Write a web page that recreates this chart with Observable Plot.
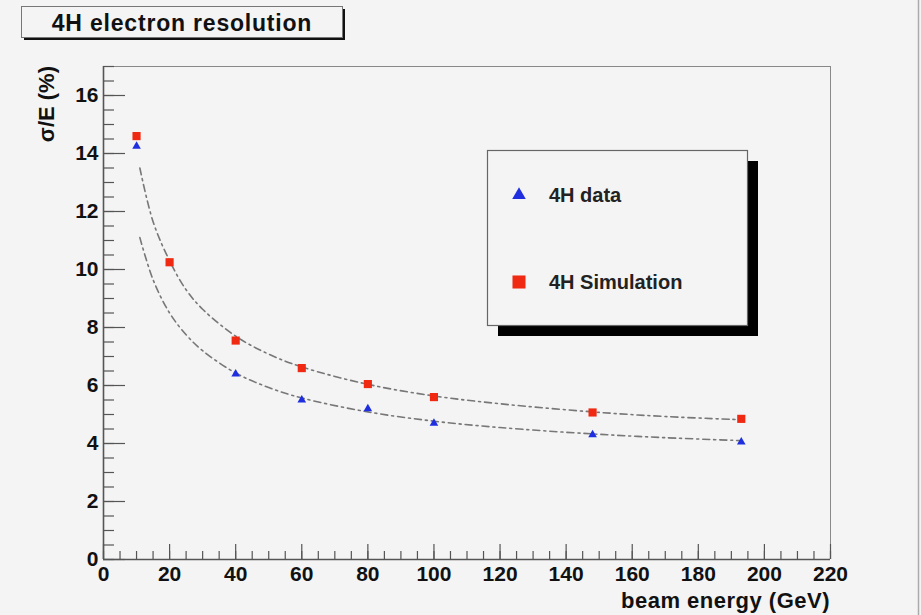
<!DOCTYPE html>
<html><head><meta charset="utf-8">
<script src="https://cdn.jsdelivr.net/npm/d3@7"></script>
<script src="https://cdn.jsdelivr.net/npm/@observablehq/plot@0.6"></script>
<style>
html,body{margin:0;padding:0;background:#f4f4f4;}
#chart{position:relative;width:921px;height:615px;}
svg{display:block;}
</style></head><body><div id="chart"></div>
<script>
// ---- data ----
const dataEnergy = [10, 40, 60, 80, 100, 148, 193];
const dataRes    = [14.25, 6.4, 5.5, 5.2, 4.7, 4.3, 4.05];
const simEnergy  = [10, 20, 40, 60, 80, 100, 148, 193];
const simRes     = [14.6, 10.25, 7.55, 6.6, 6.05, 5.6, 5.07, 4.85];
// dash-dot fit curves
const fitEnergy  = [11, 15, 20, 25, 30, 40, 50, 60, 80, 100, 120, 148, 170, 193];
const fitDataRes = [11.1, 9.65, 8.5, 7.75, 7.2, 6.43, 5.93, 5.57, 5.09, 4.77, 4.55, 4.33, 4.2, 4.1];
const fitSimRes  = [13.5, 11.65, 10.3, 9.3, 8.63, 7.7, 7.08, 6.64, 6.04, 5.64, 5.37, 5.09, 4.93, 4.82];
const xTicks = [0, 20, 40, 60, 80, 100, 120, 140, 160, 180, 200, 220];
const yTicks = [0, 2, 4, 6, 8, 10, 12, 14, 16];
const xMinor = d3.range(0, 221, 5);
const yMinor = d3.range(0, 17.01, 0.5);
const titleText = "4H electron resolution";
const xLabel = "beam energy (GeV)";
const yLabel = "σ/E (%)";
const legendItems = [
  {label: "4H data", symbol: "triangle", color: "#1f2fe0"},
  {label: "4H Simulation", symbol: "square", color: "#f02a12"}
];

const dataPts = dataEnergy.map((e, i) => ({e, r: dataRes[i]}));
const simPts = simEnergy.map((e, i) => ({e, r: simRes[i]}));
const fitD = fitEnergy.map((e, i) => ({e, r: fitDataRes[i]}));
const fitS = fitEnergy.map((e, i) => ({e, r: fitSimRes[i]}));

const W = 921, H = 615, mL = 103, mR = 91, mT = 66, mB = 56;
const innerW = W - mL - mR, innerH = H - mT - mB;
const FONT = "'Liberation Sans', Arial, Helvetica, sans-serif";
const axisCol = "#555";

const plot = Plot.plot({
  width: W, height: H,
  marginLeft: mL, marginRight: mR, marginTop: mT, marginBottom: mB,
  style: {background: "#f4f4f4", fontFamily: FONT, fontSize: "21px", fontWeight: "bold", color: "#111", overflow: "visible"},
  x: {domain: [0, 220]},
  y: {domain: [0, 17]},
  marks: [
    // frame top & right
    Plot.ruleY([17], {stroke: "#888", strokeWidth: 1}),
    Plot.ruleX([220], {stroke: "#888", strokeWidth: 1}),
    // inward ticks
    Plot.ruleX(xMinor, {x: d => d, insetTop: innerH - 8, stroke: axisCol, strokeWidth: 1.2}),
    Plot.ruleX(xTicks, {x: d => d, insetTop: innerH - 15, stroke: axisCol, strokeWidth: 1.2}),
    Plot.ruleY(yMinor, {y: d => d, insetRight: innerW - 11, stroke: axisCol, strokeWidth: 1.2}),
    Plot.ruleY(yTicks, {y: d => d, insetRight: innerW - 22, stroke: axisCol, strokeWidth: 1.2}),
    // axis lines
    Plot.ruleX([0], {stroke: axisCol, strokeWidth: 1.6}),
    Plot.ruleY([0], {stroke: axisCol, strokeWidth: 1.6}),
    Plot.axisX({ticks: xTicks, tickSize: 0, tickPadding: 7, label: null, tickFormat: d => String(d), fontSize: 21, fontWeight: "bold", fill: "#111"}),
    Plot.axisY({ticks: yTicks, tickSize: 0, tickPadding: 5, label: null, tickFormat: d => String(d), fontSize: 21, fontWeight: "bold", fill: "#111"}),
    // fit curves
    Plot.line(fitD, {x: "e", y: "r", curve: "catmull-rom", stroke: "#777", strokeWidth: 1.6, strokeDasharray: "7,4,2,4"}),
    Plot.line(fitS, {x: "e", y: "r", curve: "catmull-rom", stroke: "#777", strokeWidth: 1.6, strokeDasharray: "7,4,2,4"}),
    // points
    Plot.dot(simPts, {x: "e", y: "r", symbol: "square", r: 4.6, fill: legendItems[1].color, stroke: null}),
    Plot.dot(dataPts, {x: "e", y: "r", symbol: "triangle", r: 3.2, fill: legendItems[0].color, stroke: null})
  ]
});
document.getElementById("chart").appendChild(plot);

// ---- decorations: title box, legend, axis titles ----
const svg = d3.select(plot);
const g = svg.append("g").style("font-family", FONT).style("font-weight", "bold");

// title box
g.append("rect").attr("x", 24).attr("y", 9).attr("width", 321).attr("height", 31).attr("fill", "#111");
g.append("rect").attr("x", 21.5).attr("y", 6.5).attr("width", 321).attr("height", 31).attr("fill", "#f4f4f4").attr("stroke", "#777").attr("stroke-width", 1);
g.append("text").attr("x", 182).attr("y", 31).attr("text-anchor", "middle")
  .attr("font-size", 23).attr("letter-spacing", 0.8).attr("fill", "#111").text(titleText);

// legend box
g.append("rect").attr("x", 498).attr("y", 161).attr("width", 260).attr("height", 175).attr("fill", "#000");
g.append("rect").attr("x", 487.5).attr("y", 150.5).attr("width", 260).attr("height", 175).attr("fill", "#f4f4f4").attr("stroke", "#666").attr("stroke-width", 1.2);
const legendY = [195, 282];
legendItems.forEach((it, i) => {
  const sym = it.symbol === "triangle" ? d3.symbolTriangle : d3.symbolSquare;
  const size = it.symbol === "triangle" ? 80 : 170;
  g.append("path").attr("d", d3.symbol(sym, size)()).attr("transform", `translate(519,${legendY[i]})`).attr("fill", it.color);
  g.append("text").attr("x", 549).attr("y", legendY[i] + 7).attr("text-anchor", "start")
    .attr("font-size", 20).attr("fill", "#222").text(it.label);
});

// axis titles
g.append("text").attr("transform", "translate(54,66) rotate(-90)").attr("text-anchor", "end")
  .attr("font-size", 22).attr("fill", "#111").text(yLabel);
g.append("text").attr("x", 830).attr("y", 608).attr("text-anchor", "end")
  .attr("font-size", 22).attr("letter-spacing", 0.5).attr("fill", "#111").text(xLabel);

// right image border
g.append("line").attr("x1", 918.5).attr("x2", 918.5).attr("y1", 0).attr("y2", H).attr("stroke", "#aaa").attr("stroke-width", 1.5);
</script>
</body></html>
